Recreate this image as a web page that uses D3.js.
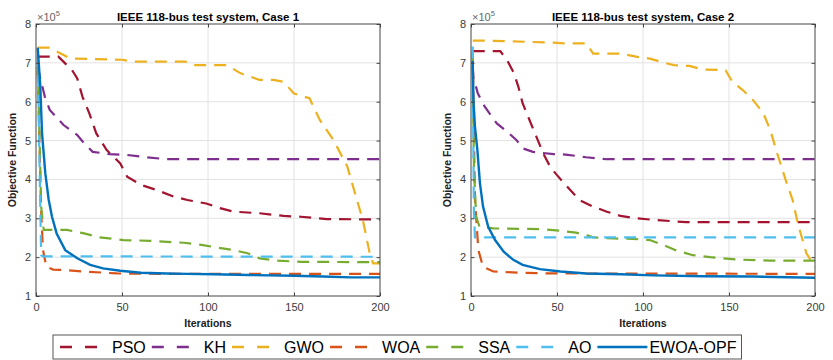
<!DOCTYPE html>
<html>
<head>
<meta charset="utf-8">
<script src="https://cdn.jsdelivr.net/npm/d3@7.9.0/dist/d3.min.js"></script>
<style>
  body { margin: 0; background: #fff; }
  svg { display: block; font-family: "Liberation Sans", Arial, sans-serif; }
  .tick text { fill: #3a3a3a; }
</style>
</head>
<body>
<svg id="chart" width="833" height="360"></svg>
<script>
// values are in units of 1e5, [iteration, objective]
const xTicks = [0, 50, 100, 150, 200];
const yTicks = [1, 2, 3, 4, 5, 6, 7, 8];
const algorithms = ['PSO', 'KH', 'GWO', 'WOA', 'SSA', 'AO', 'EWOA-OPF'];
const colors = ['#A2142F', '#7E2F8E', '#EDB120', '#D95319', '#77AC30', '#4DBEEE', '#0072BD'];
const titles = ['IEEE 118-bus test system, Case 1', 'IEEE 118-bus test system, Case 2'];

const case1PSO = [[1,7.16],[13,7.16],[18,6.94],[21,6.81],[24,6.6],[27,6.13],[31,5.7],[35,5.19],[41,4.76],[49,4.41],[53,4.07],[61,3.86],[70,3.73],[80,3.56],[88,3.47],[99,3.38],[107,3.26],[115,3.17],[130,3.13],[144,3.06],[154,3.04],[169,2.98],[200,2.97]];
const case1KH = [[1,6.9],[2.3,6.64],[5.2,6.12],[8,5.79],[16,5.4],[24,5.14],[28,4.93],[33,4.71],[43,4.65],[53,4.63],[64,4.57],[76,4.52],[200,4.52]];
const case1GWO = [[1,7.39],[8,7.39],[20,7.11],[50,7.08],[57,7.03],[87,7.03],[92,6.94],[111,6.94],[119,6.73],[130,6.56],[138,6.56],[144,6.51],[150,6.21],[159,6.09],[165,5.53],[173,5.01],[181,4.33],[186,3.56],[190,2.96],[194,2.1],[196,1.84],[200,1.84]];
const case1WOA = [[1,6.8],[2,5.0],[3,3.2],[4,2.2],[6,1.75],[10,1.68],[16,1.67],[28,1.63],[47,1.58],[76,1.57],[200,1.57]];
const case1SSA = [[1,6.9],[2,5.2],[3,3.3],[4.5,2.7],[18,2.7],[28,2.61],[37,2.51],[51,2.44],[66,2.42],[86,2.37],[97,2.31],[105,2.25],[115,2.18],[123,2.1],[130,1.97],[140,1.91],[154,1.88],[200,1.87]];
const case1AO = [[1,7.2],[2,4.5],[3,2.05],[4,2.02],[200,2.01]];
const case1EWOA = [[1,7.39],[2.5,6.39],[3.5,5.19],[5.4,4.16],[7.4,3.47],[9.3,3.04],[12,2.61],[17,2.18],[24,1.97],[31.5,1.8],[39,1.71],[49,1.65],[61,1.6],[76,1.58],[88,1.57],[103,1.56],[124,1.54],[150,1.52],[167,1.5],[183,1.48],[200,1.48]];

const case2PSO = [[1,7.3],[17,7.3],[21,7.07],[25,6.73],[27.5,6.39],[30,5.96],[34,5.53],[38,5.1],[42,4.67],[46,4.33],[50,4.11],[56,3.81],[63,3.47],[71,3.3],[79,3.17],[87,3.06],[96,3.0],[106,2.96],[125,2.9],[200,2.9]];
const case2KH = [[1,6.9],[1.3,6.64],[4,6.21],[8,5.87],[15,5.44],[21,5.23],[26.5,5.01],[30,4.8],[36,4.71],[48,4.65],[55,4.64],[67,4.57],[79,4.52],[200,4.52]];
const case2GWO = [[1,7.57],[9,7.57],[34,7.54],[48,7.52],[54,7.5],[67,7.5],[71,7.24],[87,7.24],[96,7.16],[104,7.11],[110,7.03],[118,6.94],[127,6.92],[135,6.83],[148,6.81],[152,6.51],[158,6.3],[164,6.04],[170,5.7],[174,5.27],[178,4.67],[183,3.98],[187,3.47],[190,2.87],[195,2.1],[200,1.75]];
const case2WOA = [[1,7.3],[2.3,3.47],[4.3,2.18],[7,1.75],[13,1.63],[28,1.6],[48,1.58],[200,1.57]];
const case2SSA = [[1,7.2],[1.7,4.33],[3,3.04],[5,2.78],[13,2.74],[40,2.72],[52,2.68],[61,2.63],[67,2.57],[71,2.51],[83,2.48],[94,2.47],[104,2.44],[112,2.31],[119,2.18],[129,2.05],[139,2.0],[154,1.94],[174,1.91],[200,1.91]];
const case2AO = [[1,7.42],[1.3,5.19],[1.7,3.13],[2.3,2.51],[200,2.51]];
const case2EWOA = [[1,7.05],[1.4,6.04],[2.3,5.36],[3.7,4.76],[5.2,3.9],[7,3.3],[10,2.78],[14,2.44],[19,2.14],[24.6,1.93],[30,1.8],[40,1.69],[52,1.63],[67,1.58],[87,1.56],[106,1.53],[135,1.51],[164,1.5],[200,1.47]];

const cases = [
  [case1PSO, case1KH, case1GWO, case1WOA, case1SSA, case1AO, case1EWOA],
  [case2PSO, case2KH, case2GWO, case2WOA, case2SSA, case2AO, case2EWOA],
];

const svg = d3.select('#chart');
const panels = [{ left: 36, right: 380 }, { left: 471, right: 815 }];
const plotTop = 24, plotBottom = 296;
const axisColor = '#444';

panels.forEach((p, i) => {
  const x = d3.scaleLinear().domain([0, 200]).range([p.left, p.right]);
  const y = d3.scaleLinear().domain([1, 8]).range([plotBottom, plotTop]);
  const g = svg.append('g');

  // grid
  g.append('g').selectAll('line').data(xTicks.slice(1, -1)).join('line')
    .attr('x1', d => x(d)).attr('x2', d => x(d)).attr('y1', plotTop).attr('y2', plotBottom)
    .attr('stroke', '#e2e2e2');
  g.append('g').selectAll('line').data(yTicks.slice(1, -1)).join('line')
    .attr('y1', d => y(d)).attr('y2', d => y(d)).attr('x1', p.left).attr('x2', p.right)
    .attr('stroke', '#e2e2e2');

  // series
  const clipId = 'clip' + i;
  svg.append('clipPath').attr('id', clipId).append('rect')
    .attr('x', p.left).attr('y', plotTop - 2).attr('width', p.right - p.left).attr('height', plotBottom - plotTop + 2);
  const line = d3.line().x(d => x(d[0])).y(d => y(d[1]));
  const lines = g.append('g').attr('clip-path', `url(#${clipId})`);
  cases[i].forEach((series, k) => {
    lines.append('path')
      .datum(series)
      .attr('d', line)
      .attr('fill', 'none')
      .attr('stroke', colors[k])
      .attr('stroke-width', k === 6 ? 2.4 : 2.2)
      .attr('stroke-dasharray', k === 6 ? null : '12,8');
  });

  // axes
  const xAxis = d3.axisBottom(x).tickValues(xTicks).tickSize(-3.5).tickPadding(7);
  const yAxis = d3.axisLeft(y).tickValues(yTicks).tickFormat(d3.format('d')).tickSize(-3.5).tickPadding(5);
  const gx = g.append('g').attr('transform', `translate(0,${plotBottom})`).call(xAxis);
  const gy = g.append('g').attr('transform', `translate(${p.left},0)`).call(yAxis);
  g.append('g').attr('transform', `translate(0,${plotTop})`).call(d3.axisTop(x).tickValues(xTicks).tickSize(-3.5).tickFormat(''));
  g.append('g').attr('transform', `translate(${p.right},0)`).call(d3.axisRight(y).tickValues(yTicks).tickSize(-3.5).tickFormat(''));
  g.selectAll('.domain').remove();
  g.selectAll('.tick line').attr('stroke', axisColor);
  [gx, gy].forEach(a => a.selectAll('text').attr('font-size', 11).attr('font-family', '"Liberation Sans", Arial, sans-serif'));

  g.append('rect')
    .attr('x', p.left).attr('y', plotTop).attr('width', p.right - p.left).attr('height', plotBottom - plotTop)
    .attr('fill', 'none').attr('stroke', axisColor).attr('stroke-width', 1);

  // exponent label
  const ex = g.append('text').attr('x', p.left + 1).attr('y', 21).attr('fill', '#666').attr('font-size', 11);
  ex.append('tspan').text('×10');
  ex.append('tspan').attr('font-size', 7.5).attr('dy', -5).text('5');

  // title, labels
  g.append('text').attr('x', (p.left + p.right) / 2).attr('y', 21)
    .attr('text-anchor', 'middle').attr('font-weight', 'bold').attr('font-size', 11.5).attr('fill', '#000')
    .text(titles[i]);
  g.append('text').attr('x', (p.left + p.right) / 2).attr('y', 327)
    .attr('text-anchor', 'middle').attr('font-weight', 'bold').attr('font-size', 10.5).attr('fill', '#222')
    .text('Iterations');
  g.append('text')
    .attr('transform', `translate(${p.left - 20},${(plotTop + plotBottom) / 2}) rotate(-90)`)
    .attr('text-anchor', 'middle').attr('font-weight', 'bold').attr('font-size', 10.5).attr('fill', '#222')
    .text('Objective Function');
});

// legend
const legend = svg.append('g');
const legendBox = legend.append('rect')
  .attr('x', 53).attr('y', 335).attr('height', 24)
  .attr('fill', '#fff').attr('stroke', '#555').attr('stroke-width', 1);
let cursor = 60;
const ly = 347;
algorithms.forEach((name, k) => {
  legend.append('line')
    .attr('x1', cursor).attr('x2', cursor + 50).attr('y1', ly).attr('y2', ly)
    .attr('stroke', colors[k]).attr('stroke-width', 2.4)
    .attr('stroke-dasharray', k === 6 ? null : '12,13');
  const t = legend.append('text')
    .attr('x', cursor + 52).attr('y', ly + 5.5)
    .attr('font-size', 16).attr('fill', '#000')
    .text(name);
  cursor = cursor + 52 + t.node().getComputedTextLength() + 6;
});
legendBox.attr('width', cursor - 53 - 1);
</script>
</body>
</html>
